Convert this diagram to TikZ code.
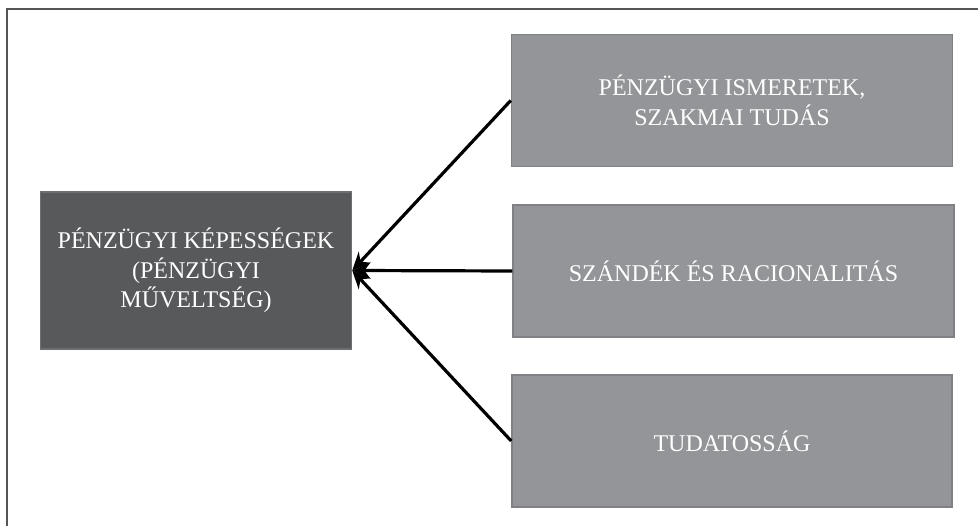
\documentclass[tikz,border=0pt]{standalone}
\usepackage{fontspec}
\setmainfont{Liberation Serif}
\usetikzlibrary{arrows.meta}
\definecolor{darkbox}{HTML}{58595B}
\definecolor{darkedge}{HTML}{6E6F71}
\definecolor{lightbox}{HTML}{939598}
\definecolor{lightedge}{HTML}{808184}
\definecolor{framecol}{HTML}{555555}
\begin{document}
\begin{tikzpicture}[x=1pt,y=-1pt,
  mainbox/.style={fill=darkbox,draw=darkedge,line width=1.5pt,text=white,align=center,
    minimum width=311pt,minimum height=157pt,inner sep=0pt,
    font=\fontsize{24}{29.5}\selectfont},
  sidebox/.style={fill=lightbox,draw=lightedge,line width=1.5pt,text=white,align=center,
    minimum width=441pt,minimum height=132pt,inner sep=0pt,
    font=\fontsize{24}{29.5}\selectfont},
  arr/.style={-{Stealth[length=18pt,width=16pt]},line width=3.2pt,black}]
\useasboundingbox (0,0) rectangle (978,526);
\draw[framecol,line width=2pt] (6.5,526) -- (6.5,9.5) -- (978,9.5);
\node[mainbox] (L) at (196,270.5) {PÉNZÜGYI KÉPESSÉGEK\\(PÉNZÜGYI\\MŰVELTSÉG)};
\node[sidebox] (b1) at (732,100.5) {PÉNZÜGYI ISMERETEK,\\SZAKMAI TUDÁS};
\node[sidebox] (b2) at (733.5,271) {SZÁNDÉK ÉS RACIONALITÁS};
\node[sidebox,minimum width=440pt] (b3) at (732,441) {TUDATOSSÁG};
\draw[arr] (b1.west) -- (L.east);
\draw[arr] (b2.west) -- (L.east);
\draw[arr] (b3.west) -- (L.east);
\end{tikzpicture}
\end{document}
